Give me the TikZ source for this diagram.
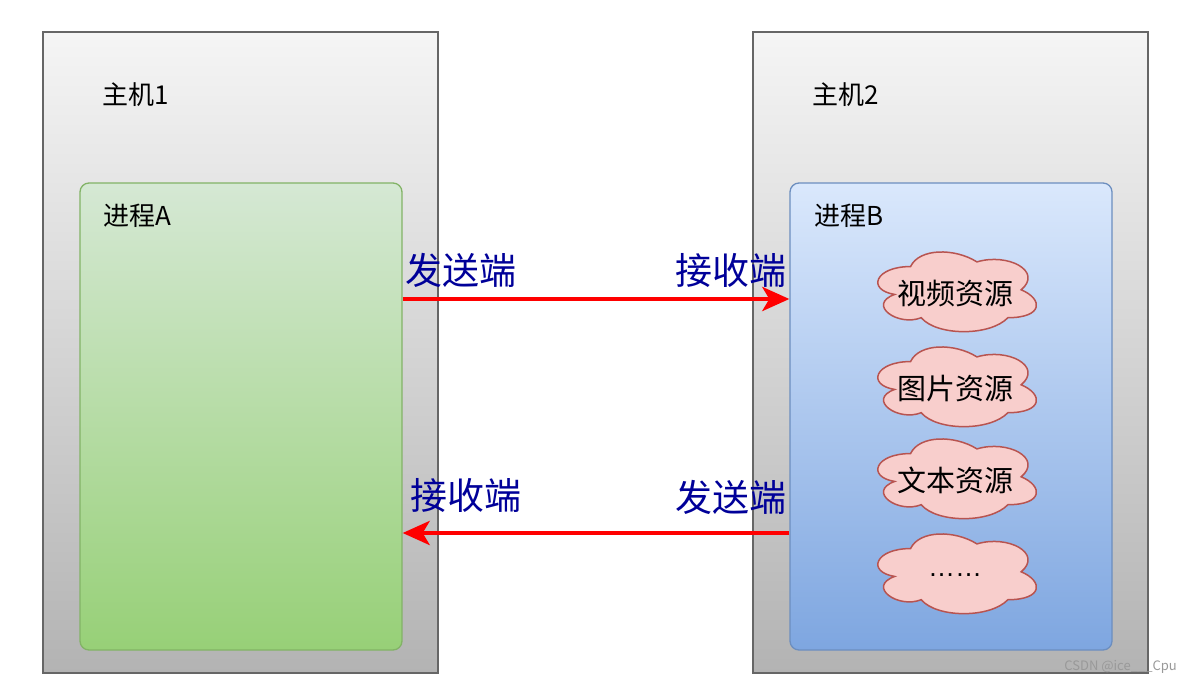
\documentclass[tikz,border=0pt]{standalone}
\usepackage{fontspec}
\setmainfont{Noto Sans CJK SC}
\newfontfamily\latinfont{Liberation Sans}
\usetikzlibrary{arrows.meta,calc}
\definecolor{hostfill}{HTML}{F5F5F5}
\definecolor{hostgrad}{HTML}{B3B3B3}
\definecolor{hoststroke}{HTML}{666666}
\definecolor{gfill}{HTML}{D5E8D4}
\definecolor{ggrad}{HTML}{97D077}
\definecolor{gstroke}{HTML}{82B366}
\definecolor{bfill}{HTML}{DAE8FC}
\definecolor{bgrad}{HTML}{7EA6E0}
\definecolor{bstroke}{HTML}{6C8EBF}
\definecolor{cfill}{HTML}{F8CECC}
\definecolor{cstroke}{HTML}{B85450}
\definecolor{lblue}{HTML}{000099}
\tikzset{
  hostbox/.style={draw=hoststroke, line width=1.5pt, top color=hostfill, bottom color=hostgrad,
    minimum width=395pt, minimum height=641pt, inner sep=0pt},
  procA/.style={draw=gstroke, line width=1.3pt, top color=gfill, bottom color=ggrad, rounded corners=9pt,
    minimum width=322pt, minimum height=467pt, inner sep=0pt},
  procB/.style={draw=bstroke, line width=1.3pt, top color=bfill, bottom color=bgrad, rounded corners=9pt,
    minimum width=322pt, minimum height=467pt, inner sep=0pt},
  hlabel/.style={anchor=west, inner sep=0pt, font=\fontsize{26}{30}\selectfont},
  elabel/.style={inner sep=0pt, text=lblue, font=\fontsize{37}{42}\selectfont},
  cloudtxt/.style={inner sep=0pt, minimum width=177pt, minimum height=93pt, font=\fontsize{29}{33}\selectfont},
  arr/.style={draw=red, line width=4.5pt, -{Stealth[length=27pt,width=24pt,inset=7pt]}},
  cloudline/.style={draw=cstroke, fill=cfill, line width=1.5pt}
}
\newcommand{\mxcloud}[1]{%
  \begin{scope}[shift={(#1.north west)}, x=177pt, y=-93pt]
    \path[cloudline] (0.25,0.25)
      .. controls (0.05,0.25) and (0,0.5) .. (0.16,0.55)
      .. controls (0,0.66) and (0.18,0.9) .. (0.31,0.8)
      .. controls (0.4,1) and (0.7,1) .. (0.8,0.8)
      .. controls (1,0.8) and (1,0.6) .. (0.875,0.5)
      .. controls (1,0.3) and (0.8,0.1) .. (0.625,0.2)
      .. controls (0.5,0.05) and (0.3,0.05) .. (0.25,0.25) -- cycle;
  \end{scope}}
\begin{document}
\begin{tikzpicture}[x=1pt,y=-1pt]
\useasboundingbox[fill=white] (0,0) rectangle (1191,685);
% hosts
\node[hostbox] (h1) at (240.5,352.5) {};
\node[hostbox] (h2) at (950.5,352.5) {};
\node[hlabel] (h1l) at (102,95) {主机1};
\node[hlabel] (h2l) at (812,95) {主机2};
% processes
\node[procA] (pA) at (241,416.5) {};
\node[procB] (pB) at (951,416.5) {};
\node[hlabel] (pAl) at (103,216) {进程A};
\node[hlabel] (pBl) at (814,216) {进程B};
% clouds
\foreach \n/\y/\t in {c1/290/视频资源, c2/385/图片资源, c3/477/文本资源}{
  \node[cloudtxt] (\n) at (955,\y) {};
  \mxcloud{\n}
  \node[inner sep=0pt, font=\fontsize{29}{33}\selectfont] at ([yshift=-3.5pt]\n.center) {\t};
}
\node[cloudtxt] (c4) at (955,572) {};
\mxcloud{c4}
\node[inner sep=0pt, font=\latinfont\fontsize{27}{33}\selectfont] at ([yshift=-3.5pt]c4.center) {……};
% arrows
\draw[arr] ([yshift=117.5pt]pA.east) -- ([yshift=117.5pt]pB.west);
\draw[arr] ([yshift=-116.5pt]pB.west) -- ([yshift=-116.5pt]pA.east);
% end labels
\node[elabel] (s1) at (461,270) {发送端};
\node[elabel] (r1) at (731,270) {接收端};
\node[elabel] (r2) at (466,495) {接收端};
\node[elabel] (s2) at (731,497) {发送端};
% watermark text
\node[anchor=east, inner sep=0pt, text=gray!80, font=\fontsize{13}{15}\selectfont] (wm) at (1177,667) {CSDN @ice\_\_\_Cpu};
\end{tikzpicture}
\end{document}
